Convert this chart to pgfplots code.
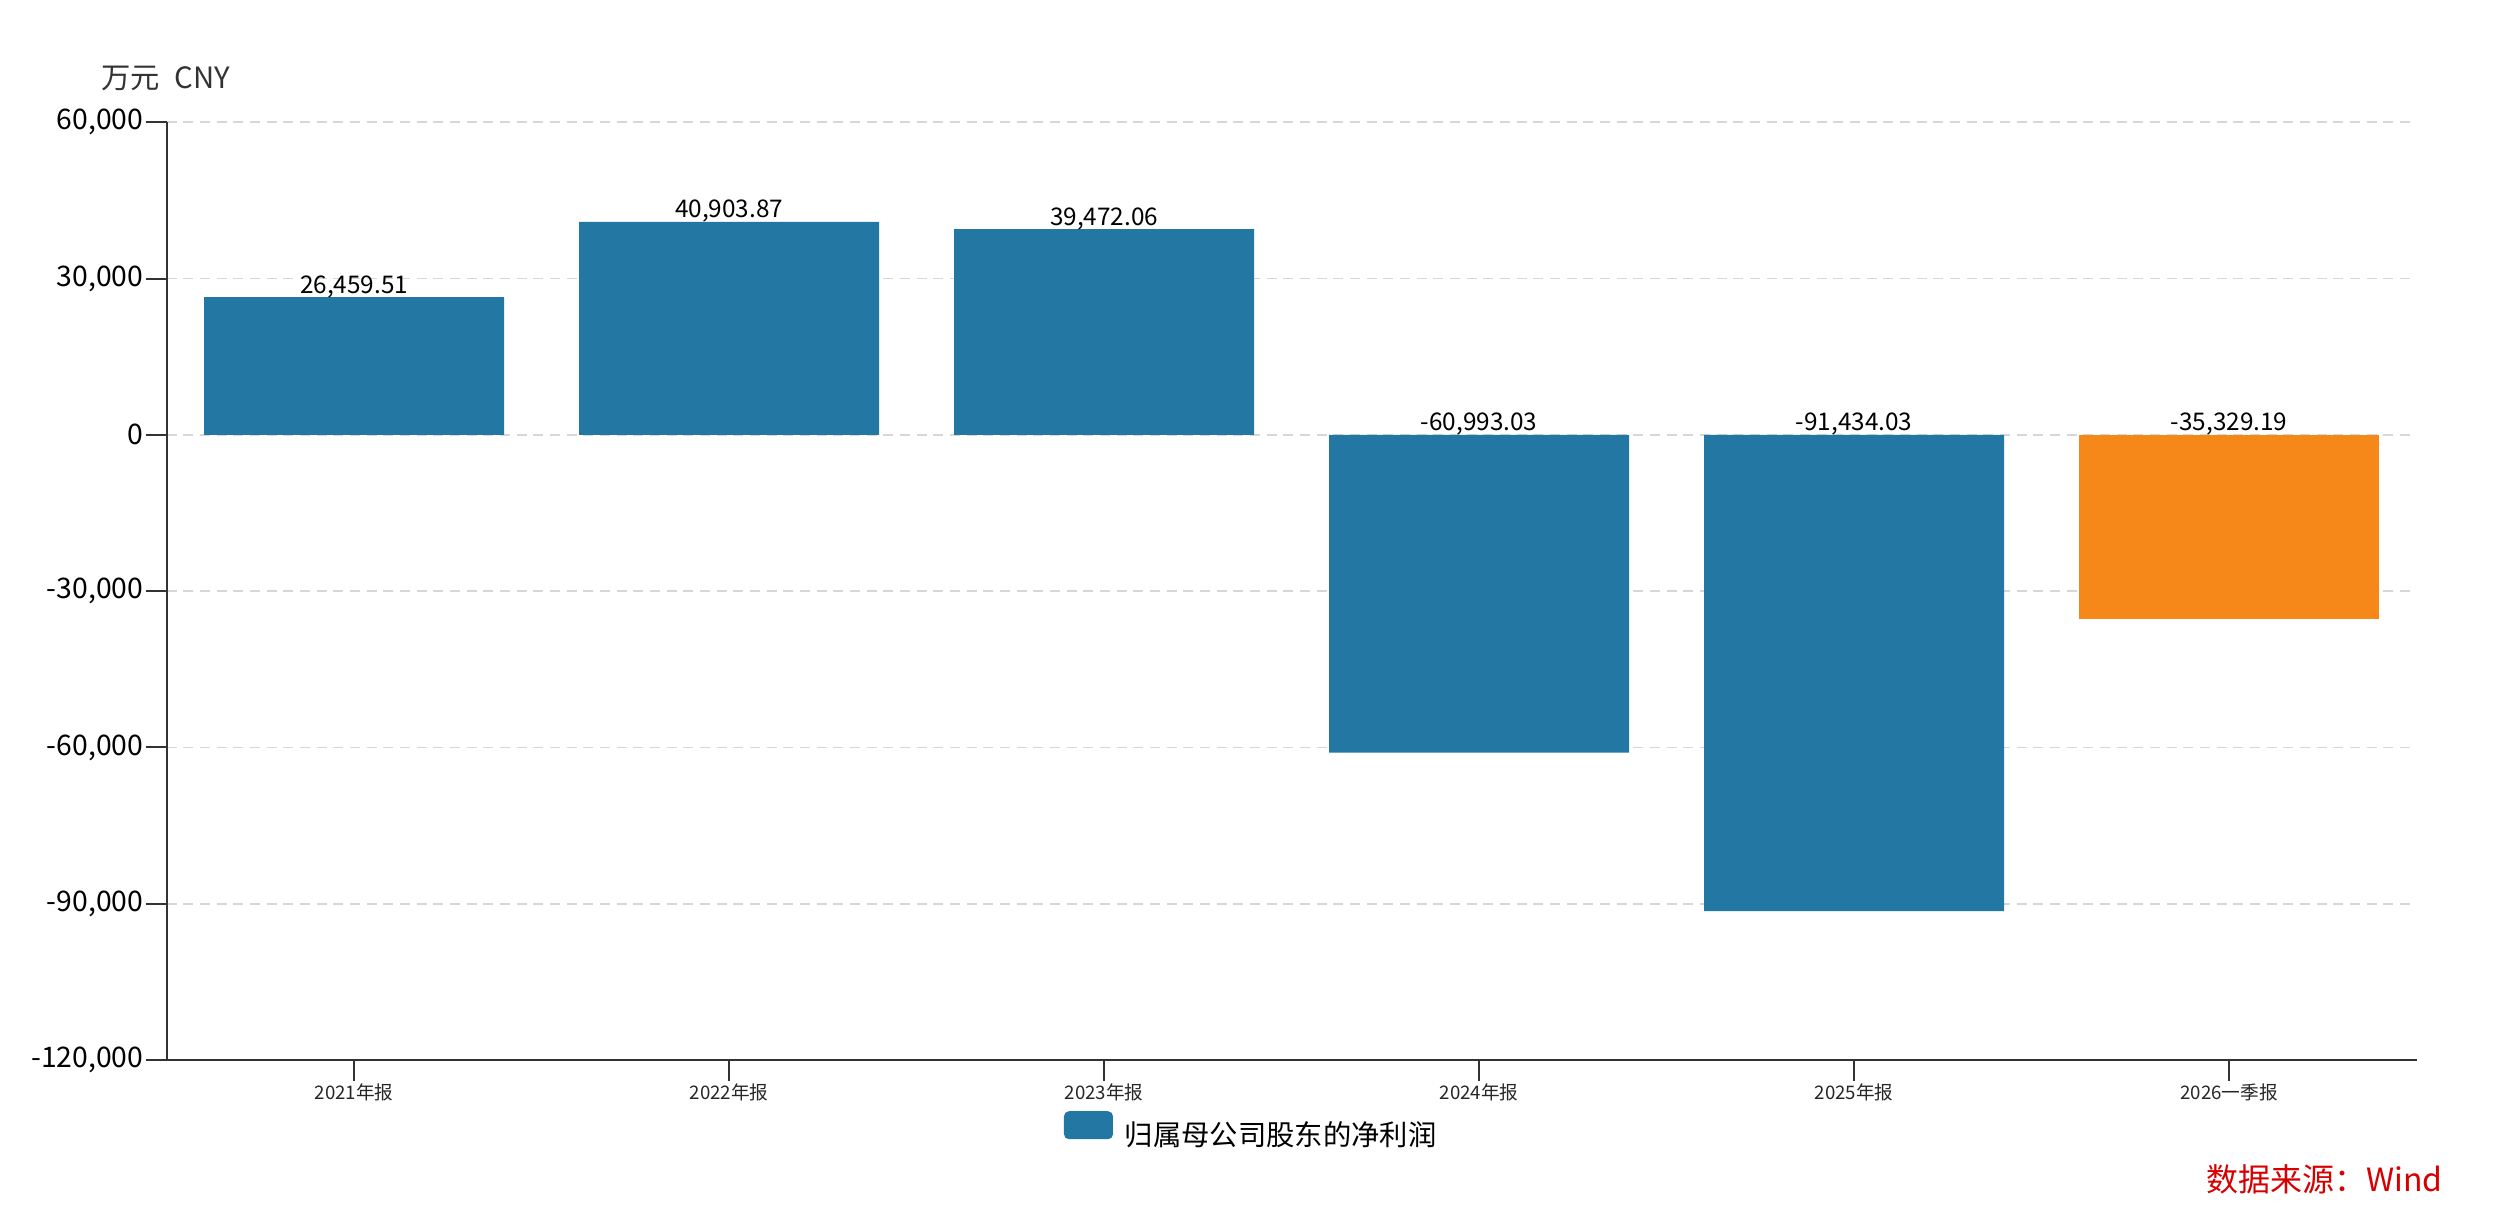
\documentclass[border=0pt]{standalone}
\usepackage{pgfplots}
\pgfplotsset{compat=1.18}
\usepackage{pgfplotstable}
\usepackage{fontspec}
\setmainfont{Noto Sans CJK SC}
\definecolor{barblue}{RGB}{35,119,163}
\definecolor{barorange}{RGB}{246,136,25}
\definecolor{axisgray}{RGB}{51,51,51}
\definecolor{gridgray}{RGB}{215,215,215}
\definecolor{srcred}{RGB}{214,0,0}

\pgfplotstableread{
x y
0.5 26459.51
1.5 40903.87
2.5 39472.06
3.5 -60993.03
4.5 -91434.03
}\bluedata
\pgfplotstableread{
x y
5.5 -35329.19
}\orangedata
\pgfplotstableread{
x y label
0.5 26459.51 26,459.51
1.5 40903.87 40,903.87
2.5 39472.06 39,472.06
3.5 0 -60,993.03
4.5 0 -91,434.03
5.5 0 -35,329.19
}\labeldata

\begin{document}
\begin{tikzpicture}
\path[use as bounding box] (-50pt,-50.4pt) rectangle (701.2pt,318pt);
\begin{axis}[
  at={(0pt,0pt)}, anchor=south west,
  scale only axis,
  width=675pt, height=281.3pt,
  xmin=0, xmax=6,
  ymin=-120000, ymax=60000,
  axis lines*=left,
  axis line style={axisgray, line width=0.6pt},
  xtick={0.5,1.5,2.5,3.5,4.5,5.5},
  xticklabels={2021年报,2022年报,2023年报,2024年报,2025年报,2026一季报},
  ytick={-120000,-90000,-60000,-30000,0,30000,60000},
  scaled y ticks=false,
  yticklabel={\pgfmathprintnumber[fixed,1000 sep={,},assume math mode=true]{\tick}},
  /pgf/number format/assume math mode=true,
  tick align=outside,
  major tick length=6.3pt,
  tick style={axisgray, line width=0.6pt},
  xtick pos=bottom, ytick pos=left,
  yticklabel style={font=\fontsize{8.5pt}{10pt}\selectfont, text=black, inner sep=0.5pt},
  xticklabel style={font=\fontsize{5.6pt}{7pt}\selectfont, text=black!85, inner sep=0pt, yshift=-0.5pt},
  ymajorgrids,
  grid style={gridgray, line width=0.5pt, dash pattern=on 3pt off 2pt},
  legend style={at={(0.3988,-0.0757)}, anchor=west, draw=none, fill=none,
    inner sep=0pt, outer sep=0pt,
    nodes={inner sep=0pt},
    font=\fontsize{8.5pt}{10pt}\selectfont,
    /tikz/every odd column/.append style={column sep=3.6pt}},
  legend image code/.code={\fill[barblue, rounded corners=1.5pt] (0pt,-0.9pt) rectangle (14.7pt,7.5pt);},
  clip=false,
]
\addplot[ybar, bar width=90pt, bar shift=0pt, fill=barblue, draw=none] table[x=x,y=y] {\bluedata};
\addlegendentry{归属母公司股东的净利润}
\addplot[ybar, bar width=90pt, bar shift=0pt, fill=barorange, draw=none, forget plot] table[x=x,y=y] {\orangedata};
\addplot[draw=none, mark=none, forget plot,
  nodes near coords, point meta=explicit symbolic,
  every node near coord/.append style={anchor=base, inner sep=0pt, yshift=1.2pt,
    font=\fontsize{7.3pt}{9pt}\selectfont, text=black}]
  table[x=x,y=y,meta=label] {\labeldata};
\node[anchor=base west, inner sep=0pt, text=axisgray, font=\fontsize{8.8pt}{10pt}\selectfont]
  at (rel axis cs:-0.0292,1.0356) {万元\hspace{0.5em}CNY};
\node[anchor=base east, inner sep=0pt, text=srcred, font=\fontsize{9.6pt}{12pt}\selectfont]
  at (rel axis cs:1.0117,-0.1405) {数据来源：Wind};
\end{axis}
\end{tikzpicture}
\end{document}
